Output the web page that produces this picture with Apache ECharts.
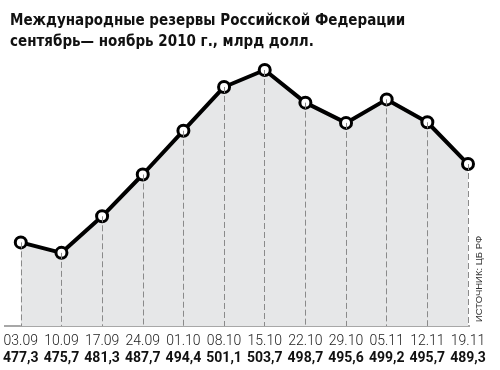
<!DOCTYPE html>
<html><head><meta charset="utf-8">
<script src="https://cdn.jsdelivr.net/npm/echarts@6/dist/echarts.min.js"></script>
<style>html,body{margin:0;padding:0;background:#fff}#c{width:500px;height:370px}</style>
</head><body><div id="c"></div>
<script>
var categories = ['03.09','10.09','17.09','24.09','01.10','08.10','15.10','22.10','29.10','05.11','12.11','19.11'];
var values = [477.3,475.7,481.3,487.7,494.4,501.1,503.7,498.7,495.6,499.2,495.7,489.3];
var titleLines = ['Международные резервы Российской Федерации','сентябрь— ноябрь 2010 г., млрд долл.'];
var sourceText = 'ИСТОЧНИК: ЦБ РФ';
var yMin = 464.5, yMax = 503.7;

var chart = echarts.init(document.getElementById('c'));
var dropLines = values.map(function(v,i){ return [{coord:[i,v]},{coord:[i,yMin]}]; });
chart.setOption({
  animation:false,
  grid:{left:18,right:32,top:70,bottom:44},
  title:{text:titleLines.join('\n'),left:5,top:6,textStyle:{fontFamily:'DejaVu Sans Condensed',fontWeight:'bold',fontSize:15,lineHeight:21,color:'#111'}},
  xAxis:{type:'category',data:categories,boundaryGap:false,
    axisLine:{show:false},axisTick:{show:false},splitLine:{show:false},
    axisLabel:{margin:7,interval:0,formatter:function(val,idx){
      return '{d|'+val+'}\n{v|'+values[idx].toFixed(1).replace('.',',')+'}';},
      rich:{d:{fontFamily:'Roboto',fontSize:14,fontWeight:300,color:'#222',lineHeight:17},
            v:{fontFamily:'Roboto',fontSize:14,fontWeight:'bold',color:'#111',lineHeight:17}}}},
  yAxis:{type:'value',min:yMin,max:yMax,show:false,splitLine:{show:false}},
  series:[
    {type:'line',data:values,symbol:'none',lineStyle:{width:0,opacity:0},
      areaStyle:{color:'#e6e7e8',opacity:1},z:1,silent:true},
    {type:'line',data:values,symbol:'circle',symbolSize:11,
    lineStyle:{color:'#000',width:4},
    itemStyle:{color:'#fff',borderColor:'#000',borderWidth:3},
    z:3,
    markLine:{silent:true,symbol:['none','none'],label:{show:false},
      lineStyle:{color:'#8a8a8a',type:[6,3],width:1},data:dropLines}}],
  graphic:[
    {type:'line',shape:{x1:4,y1:326,x2:470,y2:326},style:{stroke:'#8a8a8a',lineWidth:1.5}},
    {type:'text',x:479,y:322,rotation:Math.PI/2,style:{text:sourceText,fontFamily:'Liberation Sans',fontSize:9.5,fill:'#333',textAlign:'left',textVerticalAlign:'middle'}}
  ]
});
</script></body></html>
